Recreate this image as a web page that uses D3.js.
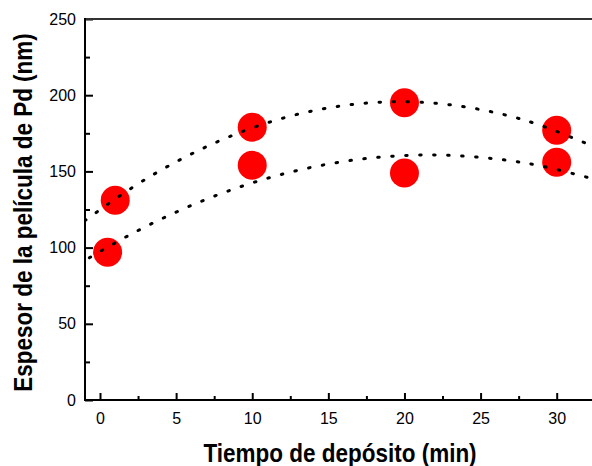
<!DOCTYPE html>
<html>
<head>
<meta charset="utf-8">
<script src="https://cdn.jsdelivr.net/npm/d3@7"></script>
<style>
  body { margin: 0; background: #fff; }
  svg { display: block; font-family: "Liberation Sans", Arial, sans-serif; }
</style>
</head>
<body>
<div id="chart"></div>
<script>
// DATA
var tiempo = [0.5, 1, 10, 10, 20, 20, 30, 30];
var espesor = [97, 131, 179, 154, 195, 149, 177, 156];

// dotted fit curves
var upperX = [-1, 2, 5, 8, 11, 14, 17, 20, 23, 26, 29, 32.5];
var upperY = [117.6, 138.6, 156.3, 170.7, 181.9, 189.8, 194.4, 195.7, 193.7, 188.5, 180.0, 166.0];
var lowerX = [-0.7, 2, 5, 8, 11, 14, 17, 20, 23, 26, 29, 32.5];
var lowerY = [93.3, 108.6, 123.3, 135.6, 145.5, 152.9, 157.9, 160.4, 160.5, 158.2, 153.5, 144.8];

var xTicks = [0, 5, 10, 15, 20, 25, 30];
var xMinor = [2.5, 7.5, 12.5, 17.5, 22.5, 27.5, 32.5];
var yTicks = [0, 50, 100, 150, 200, 250];
var yMinor = [25, 75, 125, 175, 225];

var w = 592;
var h = 466;
var padLeft = 85, padTop = 19, padBottom = 400, padRight = 600;

var svg = d3.select("#chart").append("svg").attr("width", w).attr("height", h);

// SCALES
var xScale = d3.scaleLinear().domain([0, 30]).range([100, 556.7]);
var yScale = d3.scaleLinear().domain([0, 250]).range([padBottom, padTop]);

svg.append("clipPath").attr("id", "clip")
  .append("rect").attr("x", padLeft).attr("y", padTop)
  .attr("width", padRight - padLeft).attr("height", padBottom - padTop);

// POINTS
svg.append("g")
  .selectAll("circle")
  .data(tiempo)
  .enter()
  .append("circle")
  .attr("cx", function (d) { return xScale(d); })
  .attr("cy", function (d, i) { return yScale(espesor[i]); })
  .attr("r", 14.5)
  .attr("fill", "#ff0000");

// FIT CURVES
var line = d3.line()
  .x(function (d) { return xScale(d[0]); })
  .y(function (d) { return yScale(d[1]); })
  .curve(d3.curveNatural);

[d3.zip(upperX, upperY), d3.zip(lowerX, lowerY)].forEach(function (pts) {
  svg.append("path")
    .attr("clip-path", "url(#clip)")
    .attr("d", line(pts))
    .attr("fill", "none")
    .attr("stroke", "#000")
    .attr("stroke-width", 3)
    .attr("stroke-linecap", "round")
    .attr("stroke-dasharray", "1.5 12.5");
});

// AXES
var xAxis = d3.axisBottom(xScale).tickValues(xTicks).tickSize(-7).tickPadding(13).tickFormat(d3.format("d"));
var xAxisMinor = d3.axisBottom(xScale).tickValues(xMinor).tickSize(-4).tickFormat("");
var yAxis = d3.axisLeft(yScale).tickValues(yTicks).tickSize(-8).tickPadding(9).tickFormat(d3.format("d"));
var yAxisMinor = d3.axisLeft(yScale).tickValues(yMinor).tickSize(-5).tickFormat("");

function styleAxis(g) {
  g.attr("font-size", 16).attr("font-family", "Liberation Sans, Arial, sans-serif");
  g.select(".domain").remove();
  g.selectAll("line").attr("stroke", "#000").attr("stroke-width", 2);
  g.selectAll("text").attr("fill", "#000");
}

svg.append("g").attr("transform", "translate(0," + padBottom + ")").call(xAxis).call(styleAxis);
svg.append("g").attr("transform", "translate(0," + padBottom + ")").call(xAxisMinor).call(styleAxis);
svg.append("g").attr("transform", "translate(" + padLeft + ",0)").call(yAxis).call(styleAxis);
svg.append("g").attr("transform", "translate(" + padLeft + ",0)").call(yAxisMinor).call(styleAxis);

// frame lines
svg.append("line").attr("x1", padLeft).attr("x2", w).attr("y1", padTop).attr("y2", padTop)
  .attr("stroke", "#333").attr("stroke-width", 2);
svg.append("line").attr("x1", padLeft).attr("x2", padLeft).attr("y1", padTop - 1).attr("y2", padBottom + 1)
  .attr("stroke", "#000").attr("stroke-width", 2);
svg.append("line").attr("x1", padLeft - 1).attr("x2", w).attr("y1", padBottom).attr("y2", padBottom)
  .attr("stroke", "#000").attr("stroke-width", 2);

// AXIS TITLES
svg.append("text")
  .attr("transform", "translate(340,461.5) scale(1,1.12)")
  .attr("text-anchor", "middle")
  .attr("font-size", "22.5px")
  .attr("font-weight", "bold")
  .text("Tiempo de depósito (min)");

svg.append("text")
  .attr("transform", "translate(32,212.5) rotate(-90) scale(1,1.12)")
  .attr("text-anchor", "middle")
  .attr("font-size", "22.5px")
  .attr("font-weight", "bold")
  .text("Espesor de la película de Pd (nm)");
</script>
</body>
</html>
